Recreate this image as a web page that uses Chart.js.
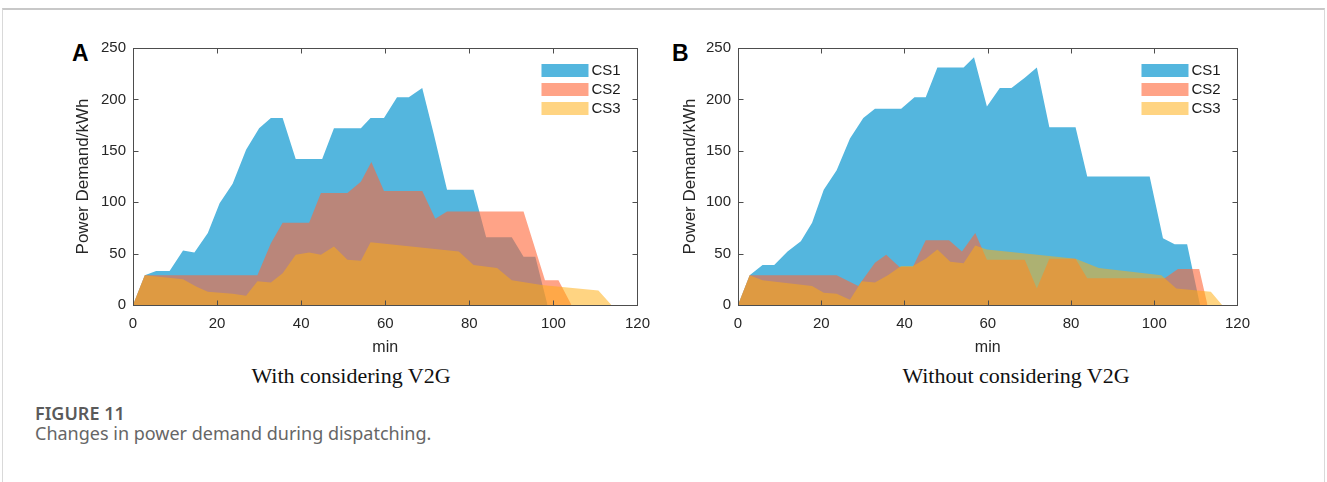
<!DOCTYPE html>
<html>
<head>
<meta charset="utf-8">
<script src="https://cdn.jsdelivr.net/npm/chart.js@4.4.1/dist/chart.umd.min.js"></script>
<style>
  html, body { margin: 0; padding: 0; background: #fff; width: 1327px; height: 482px; overflow: hidden; }
  .frame { position: absolute; left: 2px; top: 8px; width: 1321px; height: 520px; border: 1px solid #d9d9d9; border-top: 2px solid #c8c8c8; }
  canvas { position: absolute; }
  .tag { position: absolute; font: bold 23px "Liberation Sans", Arial, sans-serif; line-height: 23px; color: #000; }
  .sub { position: absolute; font: 22px "Liberation Serif", "Times New Roman", serif; line-height: 22px; color: #111; white-space: nowrap; transform: translateX(-50%); }
  .fignum { position: absolute; left: 35px; top: 403px; font: 600 18px "Noto Sans", sans-serif; line-height: 20px; color: #5a5a5a; }
  .caption { position: absolute; left: 35px; top: 423px; font: 18px "Noto Sans", sans-serif; line-height: 20px; color: #666; }
</style>
</head>
<body>
<div class="frame"></div>
<div class="tag" style="left:72px;top:42px;">A</div>
<div class="tag" style="left:672px;top:42px;">B</div>
<canvas id="chartA" width="600" height="330" style="left:60px;top:30px;"></canvas>
<canvas id="chartB" width="600" height="330" style="left:660px;top:30px;"></canvas>
<div class="sub" style="left:351px;top:365px;">With considering V2G</div>
<div class="sub" style="left:1016px;top:365px;">Without considering V2G</div>
<div class="fignum">FIGURE 11</div>
<div class="caption">Changes in power demand during dispatching.</div>

<script>
// tick labels
const minTicks = [0, 20, 40, 60, 80, 100, 120];
const kwhTicks = [0, 50, 100, 150, 200, 250];
const stationNames = ['CS1', 'CS2', 'CS3'];
const stationColors = ['rgb(84,182,222)', 'rgba(255,102,55,0.6)', 'rgba(255,172,15,0.52)'];

// A: with considering V2G
const aCs1Min = [0, 2.8, 5.5, 8.7, 11.9, 14.6, 17.8, 20.6, 23.7, 26.9, 30, 32.8, 35.6, 38.7, 41.9, 45, 47.8, 51, 54.2, 56.5, 59.7, 62.8, 65.6, 68.8, 71.5, 74.7, 81, 84, 90.1, 92.9, 95.7, 98.6];
const aCs1Kwh = [0, 29, 33, 33, 53, 51, 70, 99, 118, 151, 172, 182, 182, 142, 142, 142, 172, 172, 172, 182, 182, 202, 202, 211, 167, 112, 112, 66, 66, 47, 47, 0];
const aCs2Min = [0, 2.8, 29.6, 32.8, 35.6, 41.9, 44.7, 51, 54.2, 56.7, 59.7, 68.8, 71.9, 74.7, 92.9, 98, 101.2, 104.3];
const aCs2Kwh = [0, 29, 29, 60, 80, 80, 109, 109, 120, 139, 111, 111, 84, 91, 91, 24, 24, 0];
const aCs3Min = [0, 2.8, 11.9, 15, 17.8, 23.7, 26.9, 29.6, 32.8, 35.6, 38.7, 41.9, 44.7, 47.8, 51, 54.2, 56.5, 77.5, 81, 86.6, 90.1, 97.2, 110.7, 113.8];
const aCs3Kwh = [0, 29, 25, 18, 13, 11, 9, 23, 22, 31, 49, 51, 49, 57, 44, 43, 61, 52, 39, 36, 24, 19.5, 14, 0];

// B: without considering V2G
const bCs1Min = [0, 2.8, 5.9, 8.7, 11.9, 15.1, 17.8, 20.6, 23.7, 26.9, 30.1, 32.9, 39.2, 42.4, 45.1, 47.9, 54.2, 56.7, 59.8, 62.9, 65.7, 68.9, 71.8, 74.8, 81.1, 83.9, 98.9, 102.1, 104.9, 107.9, 111];
const bCs1Kwh = [0, 29, 39, 39, 52, 62, 80, 112, 131, 162, 182, 191, 191, 202, 202, 231, 231, 241, 193, 211, 211, 221, 231, 173, 173, 125, 125, 65, 59, 59, 0];
const bCs2Min = [0, 2.8, 23.7, 28.9, 32.9, 35.6, 38.8, 42, 45.1, 50.7, 53.8, 57, 59.8, 68.9, 71.8, 74.8, 81.1, 83.9, 102.5, 105.7, 110.8, 112.8];
const bCs2Kwh = [0, 29, 29, 18.5, 41, 49, 37, 37, 63, 63, 52, 70, 44, 44, 16, 45, 45, 26, 26, 35, 35, 0];
const bCs3Min = [0, 2.8, 5.9, 17.8, 20.6, 23.7, 26.9, 29.7, 32.9, 36, 39.2, 42, 45.1, 47.9, 51, 54.2, 57, 59.8, 81.1, 86.7, 101.7, 105.3, 113.6, 116.3];
const bCs3Kwh = [0, 29, 24, 18.5, 12, 11, 5, 23, 22, 29, 38, 38, 45, 54, 42, 40.5, 58, 54, 45, 36, 29, 16, 13, 0];

const toPoints = (xs, ys) => xs.map((x, i) => ({ x: x, y: ys[i] }));

// matlab style box, inward ticks and legend inside the axes
const matlabBox = {
  id: 'matlabBox',
  afterDatasetsDraw(chart) {
    const { ctx, chartArea: a, scales: { x, y } } = chart;
    const L = Math.round(a.left) + 0.5, R = Math.round(a.right) + 0.5;
    const T = Math.round(a.top) + 0.5, B = Math.round(a.bottom) + 0.5;
    ctx.save();
    ctx.strokeStyle = '#4d4d4d';
    ctx.lineWidth = 1;
    ctx.beginPath();
    x.ticks.forEach(t => {
      const px = Math.round(x.getPixelForValue(t.value)) + 0.5;
      ctx.moveTo(px, B); ctx.lineTo(px, B - 5);
      ctx.moveTo(px, T); ctx.lineTo(px, T + 5);
    });
    y.ticks.forEach(t => {
      const py = Math.round(y.getPixelForValue(t.value)) + 0.5;
      ctx.moveTo(L, py); ctx.lineTo(L + 5, py);
      ctx.moveTo(R, py); ctx.lineTo(R - 5, py);
    });
    ctx.stroke();
    ctx.strokeRect(L, T, R - L, B - T);

    // legend
    ctx.font = '15px "Liberation Sans", Arial, sans-serif';
    ctx.textBaseline = 'middle';
    chart.data.datasets.forEach((ds, i) => {
      const top = a.top + 16 + i * 19;
      ctx.fillStyle = ds.backgroundColor;
      ctx.fillRect(a.right - 96, top, 47, 13);
      ctx.fillStyle = '#1a1a1a';
      ctx.fillText(ds.label, a.right - 46, top + 7);
    });
    ctx.restore();
  }
};

function makePanel(id, series, yWidth, padRight, titlePad) {
  const datasets = series.map((pts, i) => ({
    label: stationNames[i],
    data: pts,
    backgroundColor: stationColors[i],
    borderColor: 'rgba(0,0,0,0)',
    borderWidth: 0,
    pointRadius: 0,
    fill: 'origin',
    tension: 0,
    order: 3 - i
  }));
  new Chart(document.getElementById(id), {
    type: 'line',
    data: { datasets: datasets },
    options: {
      responsive: false,
      animation: false,
      devicePixelRatio: 1,
      layout: { padding: { top: 18, right: padRight, left: 0, bottom: 0 } },
      plugins: { legend: { display: false }, tooltip: { enabled: false } },
      scales: {
        x: {
          type: 'linear', min: 0, max: 120,
          afterBuildTicks: s => { s.ticks = minTicks.map(v => ({ value: v })); },
          afterFit: s => { s.height = 55; },
          grid: { display: false, drawTicks: false },
          border: { display: false },
          ticks: { padding: 10, color: '#262626', font: { family: '"Liberation Sans", Arial', size: 15 } },
          title: { display: true, text: 'min', color: '#262626', padding: { top: 0, bottom: 3 }, font: { family: '"Liberation Sans", Arial', size: 16 } }
        },
        y: {
          type: 'linear', min: 0, max: 250,
          afterBuildTicks: s => { s.ticks = kwhTicks.map(v => ({ value: v })); },
          afterFit: s => { s.width = yWidth; },
          grid: { display: false, drawTicks: false },
          border: { display: false },
          ticks: { padding: 7, color: '#262626', font: { family: '"Liberation Sans", Arial', size: 15 } },
          title: { display: true, text: 'Power Demand/kWh', color: '#262626', padding: { top: titlePad, bottom: 0 }, font: { family: '"Liberation Sans", Arial', size: 17 } }
        }
      }
    },
    plugins: [matlabBox]
  });
}

makePanel('chartA', [toPoints(aCs1Min, aCs1Kwh), toPoints(aCs2Min, aCs2Kwh), toPoints(aCs3Min, aCs3Kwh)], 73, 21, 13);
makePanel('chartB', [toPoints(bCs1Min, bCs1Kwh), toPoints(bCs2Min, bCs2Kwh), toPoints(bCs3Min, bCs3Kwh)], 78, 16, 20);
</script>
</body>
</html>
